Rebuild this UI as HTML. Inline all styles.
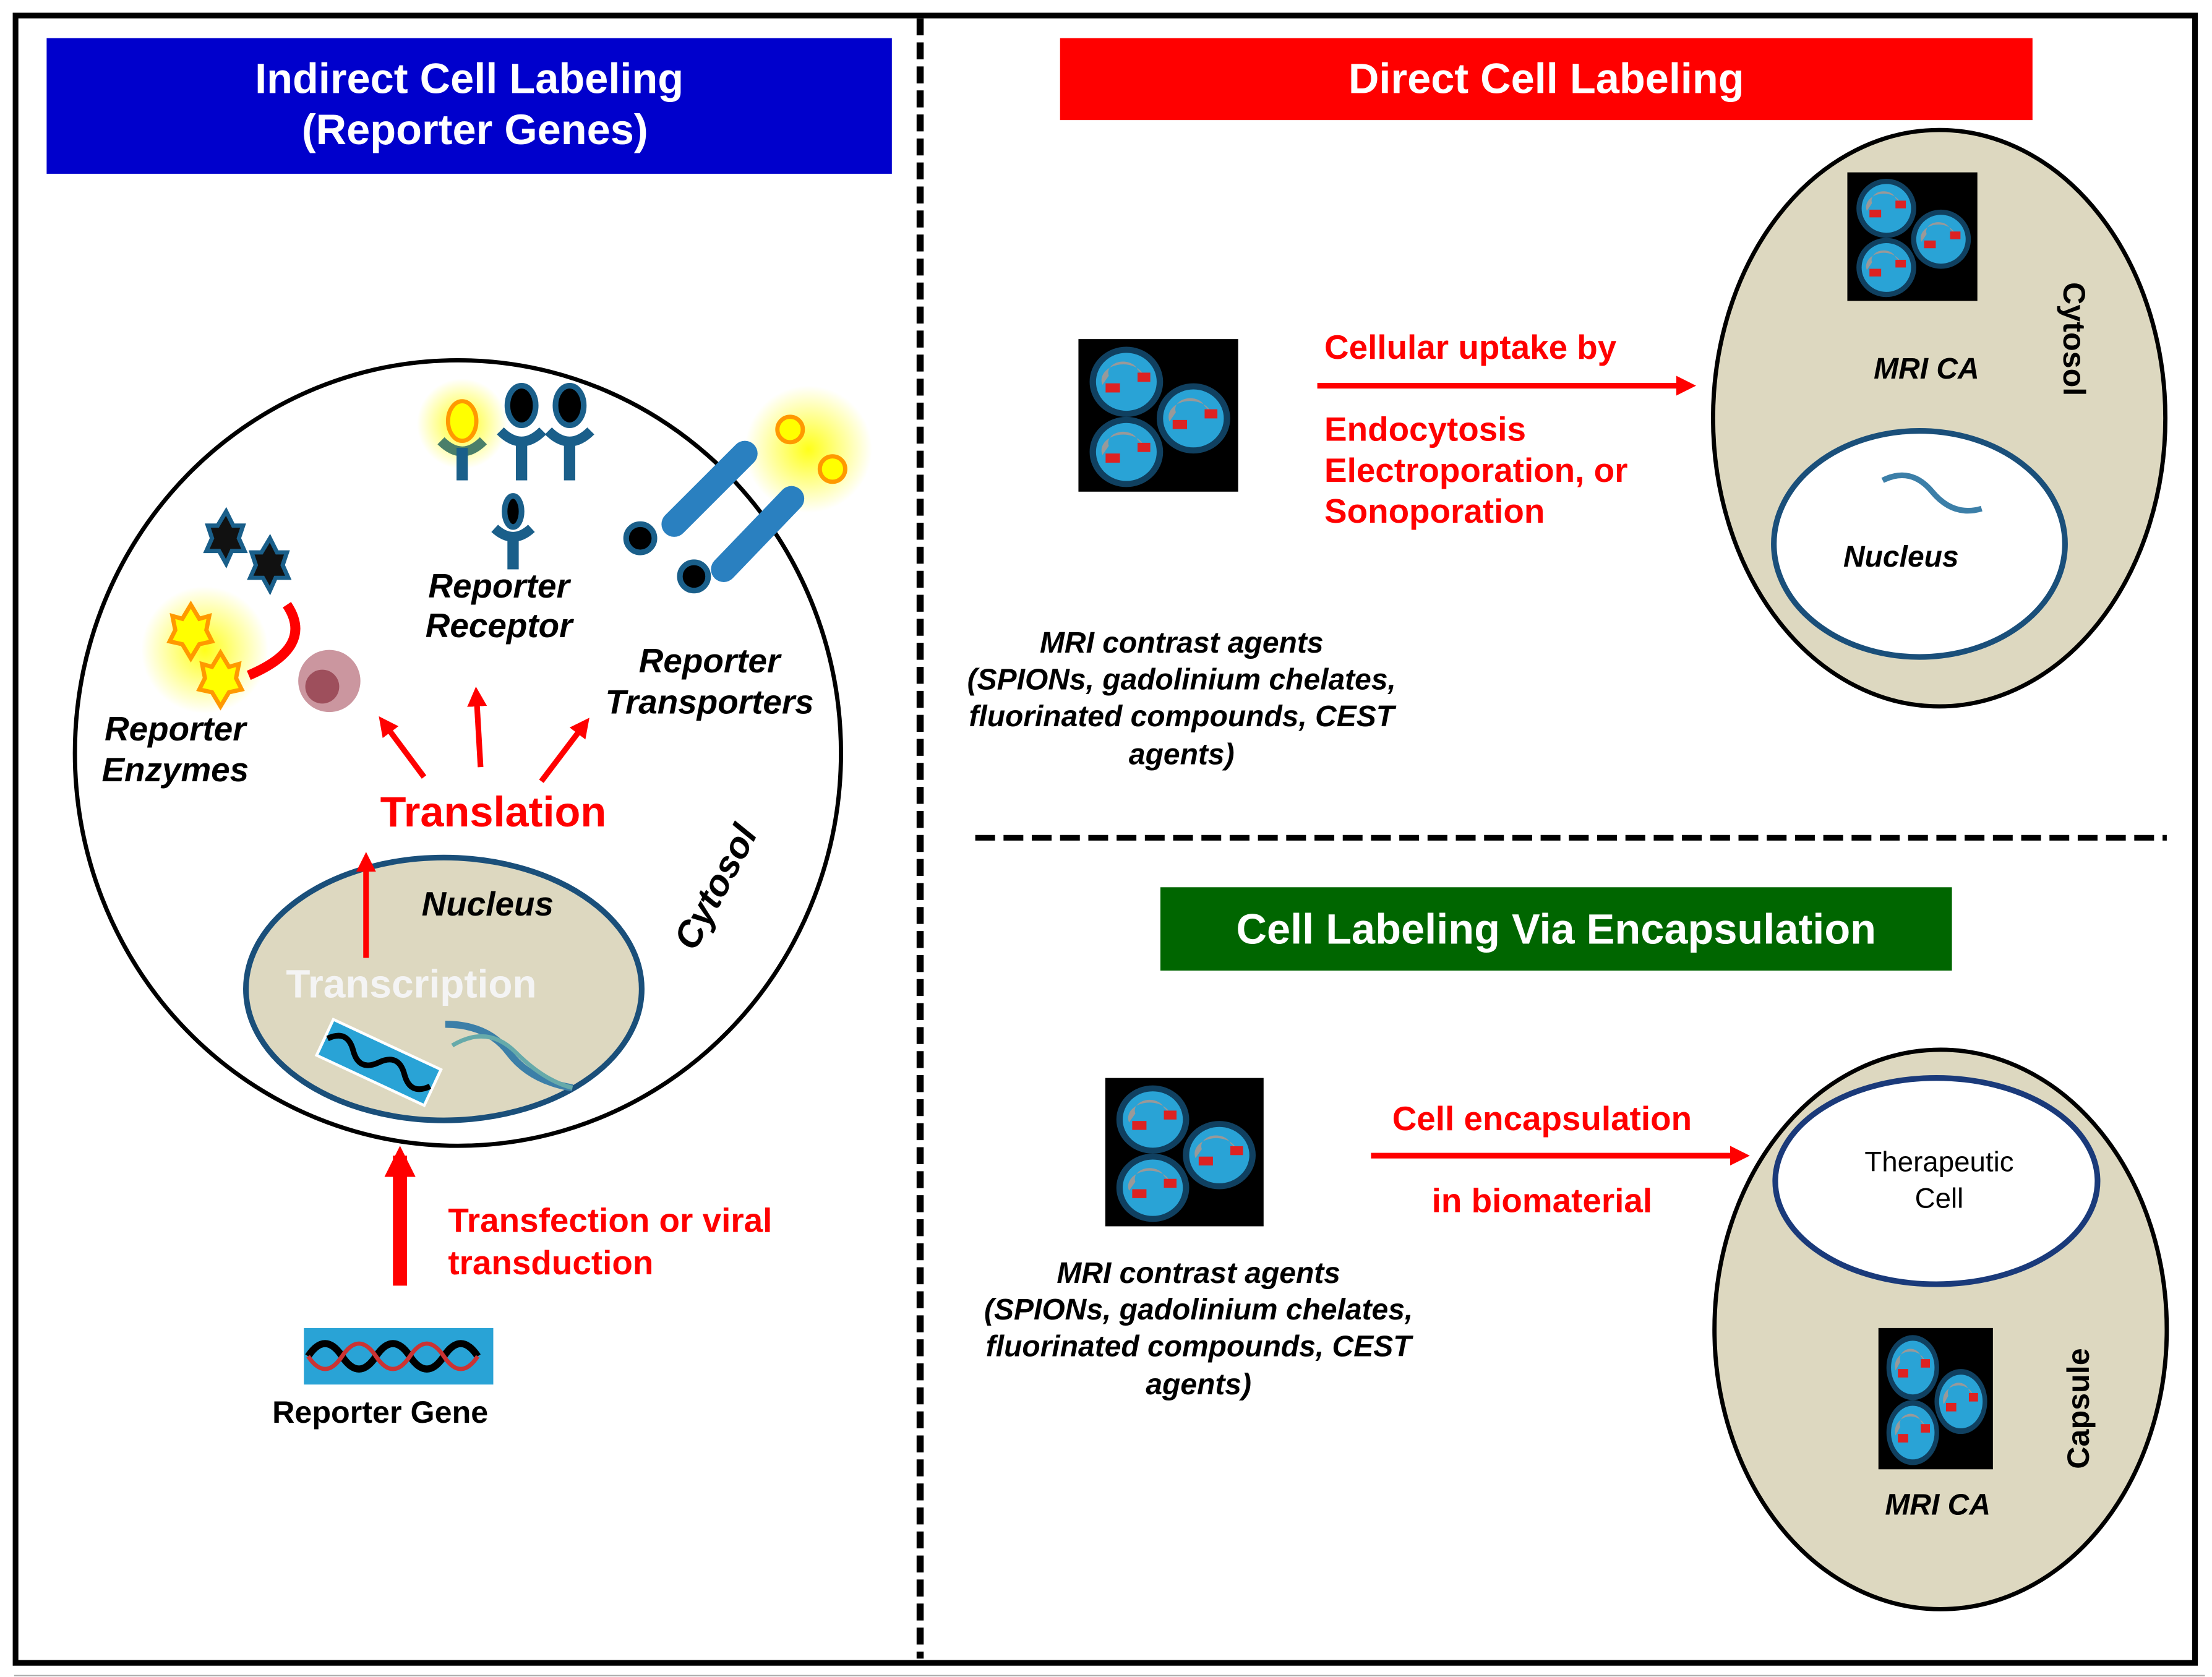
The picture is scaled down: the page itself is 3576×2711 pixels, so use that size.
<!DOCTYPE html>
<html><head><meta charset="utf-8"><style>
html,body{margin:0;padding:0;background:#fff;}
svg{display:block;}
text{font-family:"Liberation Sans",Arial,sans-serif;font-weight:bold;}
.it{font-style:italic;}
</style></head><body>
<svg width="3576" height="2711" viewBox="0 0 1565 1187" preserveAspectRatio="none" xmlns="http://www.w3.org/2000/svg">
<defs>
<marker id="ah" markerWidth="14" markerHeight="14" refX="9" refY="7" orient="auto" markerUnits="userSpaceOnUse" viewBox="0 0 14 14"><path d="M0,0 L14,7 L0,14 z" fill="#f00"/></marker>
<marker id="ah2" markerWidth="22" markerHeight="22" refX="15" refY="11" orient="auto" markerUnits="userSpaceOnUse" viewBox="0 0 22 22"><path d="M0,0 L22,11 L0,22 z" fill="#f00"/></marker>
<g id="mag">
<circle r="21" fill="#29a3d6" stroke="#104060" stroke-width="4"/>
<path d="M-11,-4 a9,7 0 0 1 18,-4 l4,4 a13,10 0 0 0 -26,6 z" fill="#999"/>
<rect x="-13" y="1" width="9" height="6" fill="#d22"/>
<rect x="7" y="-6" width="8" height="6" fill="#d22"/>
</g>
<g id="tile">
<rect width="100" height="100" fill="#000"/>
<use href="#mag" x="30" y="28"/><use href="#mag" x="72" y="52"/><use href="#mag" x="30" y="74"/>
</g>
<radialGradient id="glow"><stop offset="0" stop-color="#ffff00" stop-opacity="0.9"/><stop offset="1" stop-color="#ffff00" stop-opacity="0"/></radialGradient>
</defs>

<rect x="11" y="11" width="1542" height="1166" fill="none" stroke="#000" stroke-width="4"/>
<line x1="10" y1="1186" x2="1560" y2="1186" stroke="#aaa" stroke-width="1"/>
<line x1="651" y1="13" x2="651" y2="1174" stroke="#000" stroke-width="5" stroke-dasharray="12,5"/>
<line x1="690" y1="593" x2="1533" y2="593" stroke="#000" stroke-width="4" stroke-dasharray="14,6"/>

<rect x="33" y="27" width="598" height="96" fill="#0000cc"/>
<text x="332" y="66" font-size="30" fill="#fff" text-anchor="middle">Indirect  Cell Labeling</text>
<text x="336" y="102" font-size="30" fill="#fff" text-anchor="middle">(Reporter Genes)</text>
<rect x="750" y="27" width="688" height="58" fill="#f00"/>
<text x="1094" y="66" font-size="30" fill="#fff" text-anchor="middle">Direct  Cell Labeling</text>
<rect x="821" y="628" width="560" height="59" fill="#006600"/>
<text x="1101" y="668" font-size="30" fill="#fff" text-anchor="middle">Cell Labeling Via Encapsulation</text>

<ellipse cx="324" cy="533" rx="271" ry="278" fill="#fff" stroke="#000" stroke-width="3"/>
<ellipse cx="314" cy="700" rx="140" ry="93" fill="#ddd8c0" stroke="#1a4f7a" stroke-width="4"/>
<text x="345" y="648" font-size="24" class="it" text-anchor="middle">Nucleus</text>
<text x="291" y="706" font-size="28" fill="#f4f4f4" text-anchor="middle">Transcription</text>
<g transform="translate(268,752) rotate(25)"><rect x="-42" y="-14" width="84" height="28" fill="#29a3d6" stroke="#fff" stroke-width="2"/><path d="M-40,0 q10,-12 20,0 t20,0 t20,0 t20,0" stroke="#000" stroke-width="4" fill="none"/></g>
<path d="M315,725 q30,0 45,20 t45,25" stroke="#3c7fa8" stroke-width="5" fill="none"/>
<path d="M320,740 q25,-15 45,5 t40,25" stroke="#6aa" stroke-width="3" fill="none"/>
<line x1="259" y1="678" x2="259" y2="608" stroke="#f00" stroke-width="4" marker-end="url(#ah)"/>
<text x="349" y="585" font-size="30" fill="#f00" text-anchor="middle">Translation</text>
<line x1="300" y1="550" x2="271" y2="511" stroke="#f00" stroke-width="4" marker-end="url(#ah)"/>
<line x1="340" y1="543" x2="337" y2="491" stroke="#f00" stroke-width="4" marker-end="url(#ah)"/>
<line x1="383" y1="553" x2="414" y2="512" stroke="#f00" stroke-width="4" marker-end="url(#ah)"/>
<text x="124" y="524" font-size="24" class="it" text-anchor="middle">Reporter</text>
<text x="124" y="553" font-size="24" class="it" text-anchor="middle">Enzymes</text>
<text x="353" y="423" font-size="24" class="it" text-anchor="middle">Reporter</text>
<text x="353" y="451" font-size="24" class="it" text-anchor="middle">Receptor</text>
<text x="502" y="476" font-size="24" class="it" text-anchor="middle">Reporter</text>
<text x="502" y="505" font-size="24" class="it" text-anchor="middle">Transporters</text>
<text x="0" y="0" font-size="26" class="it" text-anchor="middle" transform="translate(514,632) rotate(-62)">Cytosol</text>
<circle cx="145" cy="460" r="45" fill="url(#glow)"/>
<polygon points="135,428 141,438 148,436 146,446 150,454 141,456 135,466 129,456 120,454 124,446 122,436 129,438" fill="#ff0" stroke="#f90" stroke-width="3"/>
<polygon points="156,462 162,472 169,470 167,480 171,488 162,490 156,500 150,490 141,488 145,480 143,470 150,472" fill="#ff0" stroke="#f90" stroke-width="3"/>
<polygon points="160,362 165,372 172,372 169,381 173,390 164,390 160,399 155,390 146,390 150,381 147,372 154,372" fill="#111" stroke="#1a5f8a" stroke-width="3"/>
<polygon points="191,381 196,391 203,391 200,400 204,409 195,409 191,418 186,409 177,409 181,400 178,391 185,391" fill="#111" stroke="#1a5f8a" stroke-width="3"/>
<path d="M203,428 q20,30 -27,50" stroke="#f00" stroke-width="7" fill="none"/>
<circle cx="233" cy="482" r="22" fill="#a04050" opacity="0.55"/>
<circle cx="228" cy="486" r="12" fill="#802030" opacity="0.6"/>
<circle cx="327" cy="300" r="32" fill="url(#glow)"/>
<ellipse cx="327" cy="298" rx="10" ry="14" fill="#ff0" stroke="#f90" stroke-width="3"/>
<path d="M312,312 q15,15 30,0" stroke="#4a7f6a" stroke-width="7" fill="none"/><rect x="323" y="317" width="8" height="23" fill="#1a5f8a"/>
<ellipse cx="369" cy="287" rx="10" ry="14" fill="#000" stroke="#1a5f8a" stroke-width="4"/>
<path d="M354,305 q15,15 30,0" stroke="#1a5f8a" stroke-width="7" fill="none"/><rect x="365" y="310" width="8" height="30" fill="#1a5f8a"/>
<ellipse cx="403" cy="287" rx="10" ry="14" fill="#000" stroke="#1a5f8a" stroke-width="4"/>
<path d="M388,305 q15,15 30,0" stroke="#1a5f8a" stroke-width="7" fill="none"/><rect x="399" y="310" width="8" height="30" fill="#1a5f8a"/>
<ellipse cx="363" cy="362" rx="6" ry="11" fill="#000" stroke="#1a5f8a" stroke-width="4"/>
<path d="M350,374 q13,12 26,0" stroke="#1a5f8a" stroke-width="7" fill="none"/><rect x="359" y="378" width="8" height="25" fill="#1a5f8a"/>
<circle cx="572" cy="318" r="45" fill="url(#glow)"/>
<circle cx="559" cy="304" r="9" fill="#ff0" stroke="#f90" stroke-width="3"/>
<circle cx="589" cy="332" r="9" fill="#ff0" stroke="#f90" stroke-width="3"/>
<line x1="477" y1="371" x2="527" y2="321" stroke="#2a80c0" stroke-width="18" stroke-linecap="round"/>
<line x1="512" y1="403" x2="560" y2="353" stroke="#2a80c0" stroke-width="18" stroke-linecap="round"/>
<circle cx="453" cy="381" r="10" fill="#000" stroke="#1a5f8a" stroke-width="4"/>
<circle cx="491" cy="408" r="10" fill="#000" stroke="#1a5f8a" stroke-width="4"/>
<line x1="283" y1="910" x2="283" y2="818" stroke="#f00" stroke-width="10" marker-end="url(#ah2)"/>
<text x="317" y="872" font-size="24" fill="#f00">Transfection or viral</text>
<text x="317" y="902" font-size="24" fill="#f00">transduction</text>
<rect x="215" y="940" width="134" height="40" fill="#29a3d6"/>
<path d="M218,960 q12,-18 24,0 t24,0 t24,0 t24,0 t24,0" stroke="#000" stroke-width="5" fill="none"/>
<path d="M218,960 q12,18 24,0 t24,0 t24,0 t24,0 t24,0" stroke="#c33" stroke-width="3" fill="none"/>
<text x="269" y="1007" font-size="22" text-anchor="middle">Reporter Gene</text>

<use href="#tile" transform="translate(763,240) scale(1.13,1.08)"/>
<line x1="932" y1="273" x2="1195" y2="273" stroke="#f00" stroke-width="4" marker-end="url(#ah)"/>
<text x="937" y="254" font-size="24" fill="#f00">Cellular uptake by</text>
<text x="937" y="312" font-size="24" fill="#f00">Endocytosis</text>
<text x="937" y="341" font-size="24" fill="#f00">Electroporation, or</text>
<text x="937" y="370" font-size="24" fill="#f00">Sonoporation</text>
<g font-size="21" text-anchor="middle">
<text x="836" y="462" class="it">MRI contrast agents</text>
<text x="836" y="488" class="it">(SPIONs, gadolinium chelates,</text>
<text x="836" y="514" class="it">fluorinated compounds, CEST</text>
<text x="836" y="541" class="it">agents)</text>
</g>
<ellipse cx="1372" cy="296" rx="160" ry="204" fill="#ddd8c0" stroke="#000" stroke-width="3"/>
<use href="#tile" transform="translate(1307,122) scale(0.92,0.91)"/>
<text x="1363" y="268" font-size="21" class="it" text-anchor="middle">MRI CA</text>
<text x="0" y="0" font-size="22" text-anchor="middle" transform="translate(1460,240) rotate(90)">Cytosol</text>
<ellipse cx="1358" cy="385" rx="103" ry="80" fill="#fff" stroke="#1a4f7a" stroke-width="4"/>
<path d="M1332,340 q20,-10 35,8 t35,12" stroke="#3c7fa8" stroke-width="4" fill="none"/>
<text x="1345" y="401" font-size="21" class="it" text-anchor="middle">Nucleus</text>

<use href="#tile" transform="translate(782,763) scale(1.12,1.05)"/>
<line x1="970" y1="818" x2="1233" y2="818" stroke="#f00" stroke-width="4" marker-end="url(#ah)"/>
<text x="1091" y="800" font-size="24" fill="#f00" text-anchor="middle">Cell encapsulation</text>
<text x="1091" y="858" font-size="24" fill="#f00" text-anchor="middle">in biomaterial</text>
<g font-size="21" text-anchor="middle">
<text x="848" y="908" class="it">MRI contrast agents</text>
<text x="848" y="934" class="it">(SPIONs, gadolinium chelates,</text>
<text x="848" y="960" class="it">fluorinated compounds, CEST</text>
<text x="848" y="987" class="it">agents)</text>
</g>
<ellipse cx="1373" cy="941" rx="160" ry="198" fill="#ddd8c0" stroke="#000" stroke-width="3"/>
<ellipse cx="1370" cy="836" rx="114" ry="73" fill="#fff" stroke="#1a3a7a" stroke-width="4"/>
<text x="1372" y="829" font-size="20" style="font-weight:normal" text-anchor="middle">Therapeutic</text>
<text x="1372" y="855" font-size="20" style="font-weight:normal" text-anchor="middle">Cell</text>
<use href="#tile" transform="translate(1329,940) scale(0.81,1.0)"/>
<text x="1371" y="1072" font-size="21" class="it" text-anchor="middle">MRI CA</text>
<text x="0" y="0" font-size="22" text-anchor="middle" transform="translate(1478,997) rotate(-90)">Capsule</text>
</svg>
</body></html>
